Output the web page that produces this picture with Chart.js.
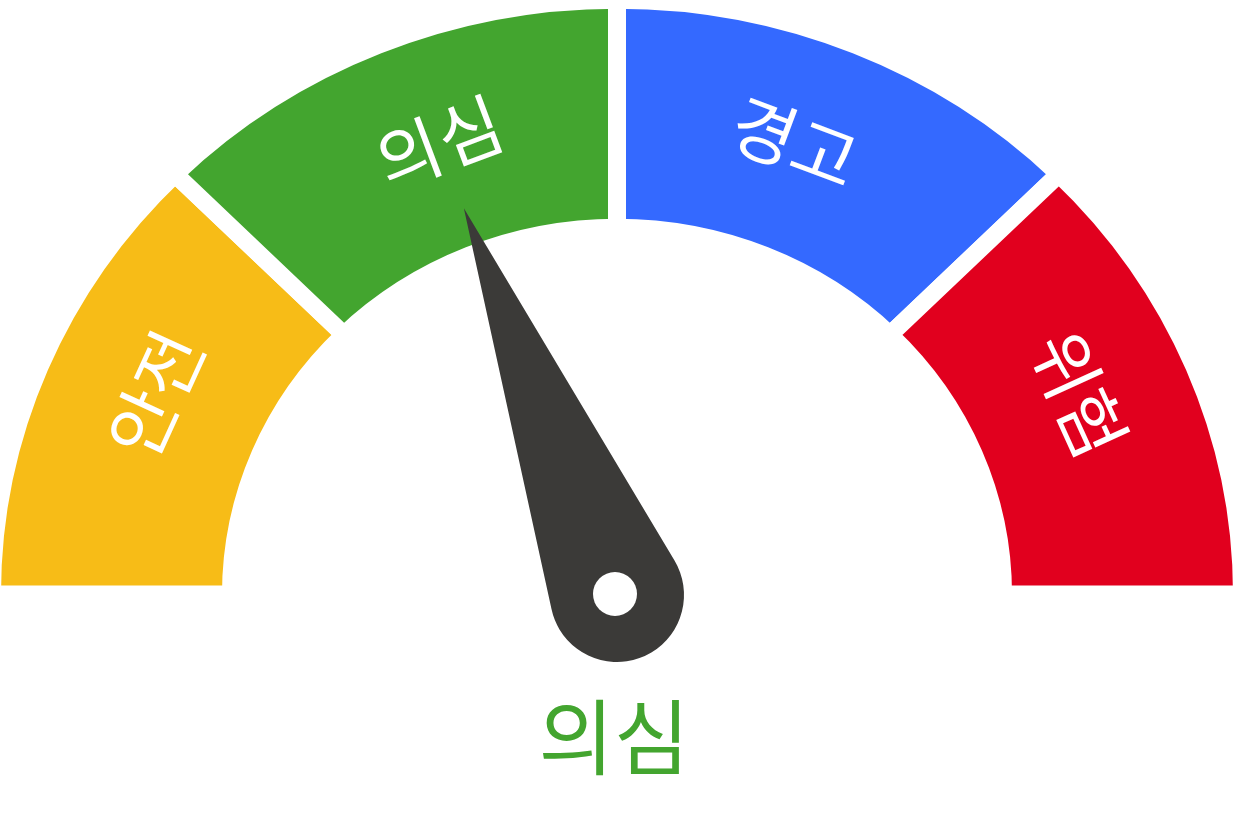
<!DOCTYPE html>
<html><head><meta charset="utf-8">
<script src="https://cdn.jsdelivr.net/npm/chart.js@4/dist/chart.umd.min.js"></script>
<style>html,body{margin:0;padding:0;background:#fff;} #wrap{width:1234px;height:837px;}</style>
</head><body><div id="wrap"><canvas id="c" width="1234" height="837"></canvas></div>
<script>
const categories = ['안전', '의심', '경고', '위험'];
const segmentValues = [25, 25, 25, 25];
const segmentColors = ['#F7BC17', '#43A52F', '#3469FF', '#E1001E'];
const needleValue = 38;
const gaugeMin = 0;
const gaugeMax = 100;

const NEEDLE_COLOR = '#3B3A38';
const Y_SCALE = 0.95;
const LABEL_NUDGE = 0.035;
const FONT = '"Noto Sans CJK KR", "Noto Sans", sans-serif';

const gaugePlugin = {
  id: 'gauge',
  beforeDatasetsDraw(chart) {
    const a = chart.getDatasetMeta(0).data[0];
    const ctx = chart.ctx;
    ctx.save();
    ctx.translate(a.x, a.y);
    ctx.scale(1, Y_SCALE);
    ctx.translate(-a.x, -a.y);
  },
  afterDatasetsDraw(chart) {
    const ctx = chart.ctx;
    ctx.restore();
    const arcs = chart.getDatasetMeta(0).data;
    // segment labels
    ctx.save();
    ctx.fillStyle = '#ffffff';
    ctx.font = '70px ' + FONT;
    ctx.textAlign = 'center';
    ctx.textBaseline = 'middle';
    arcs.forEach((a, i) => {
      let mid = (a.startAngle + a.endAngle) / 2;
      mid += LABEL_NUDGE * Math.sign(-Math.PI / 2 - mid);
      const r = (a.innerRadius + a.outerRadius) / 2 + 2;
      const x = a.x + Math.cos(mid) * r;
      const y = a.y + Math.sin(mid) * r * Y_SCALE;
      ctx.save();
      ctx.translate(x, y);
      ctx.rotate(mid + Math.PI / 2);
      ctx.fillText(chart.data.labels[i], 0, 0);
      ctx.restore();
    });
    ctx.restore();

    // needle
    const first = arcs[0], last = arcs[arcs.length - 1];
    const start = first.startAngle, end = last.endAngle;
    const ang = start + (needleValue - gaugeMin) / (gaugeMax - gaugeMin) * (end - start);
    const cx = first.x, cy = first.y + 1;
    const L = 416, rb = 67, rh = 22;
    const phi = Math.acos(rb / L);
    ctx.save();
    ctx.fillStyle = NEEDLE_COLOR;
    ctx.beginPath();
    ctx.moveTo(cx + Math.cos(ang) * L, cy + Math.sin(ang) * L);
    ctx.lineTo(cx + Math.cos(ang + phi) * rb, cy + Math.sin(ang + phi) * rb);
    ctx.arc(cx, cy, rb, ang + phi, ang - phi, false);
    ctx.closePath();
    ctx.fill();
    ctx.fillStyle = '#ffffff';
    ctx.beginPath();
    ctx.arc(cx - 2, cy - 1, rh, 0, Math.PI * 2);
    ctx.fill();
    ctx.restore();

    // current category label
    let acc = gaugeMin, idx = 0;
    for (let i = 0; i < segmentValues.length; i++) {
      acc += segmentValues[i];
      if (needleValue <= acc) { idx = i; break; }
    }
    ctx.save();
    ctx.fillStyle = segmentColors[idx];
    ctx.font = '82px ' + FONT;
    ctx.textAlign = 'center';
    ctx.textBaseline = 'middle';
    ctx.fillText(categories[idx], cx - 3, 737);
    ctx.restore();
  }
};

new Chart(document.getElementById('c'), {
  type: 'doughnut',
  data: {
    labels: categories,
    datasets: [{
      data: segmentValues,
      backgroundColor: segmentColors,
      borderColor: '#ffffff',
      borderWidth: 18,
      hoverOffset: 0,
      radius: 625,
      cutout: '61.76%',
      clip: false
    }]
  },
  options: {
    responsive: false,
    animation: false,
    events: [],
    rotation: -90,
    circumference: 180,
    layout: { padding: { top: 0, bottom: 274, left: 0, right: 0 } },
    plugins: { legend: { display: false }, tooltip: { enabled: false } }
  },
  plugins: [gaugePlugin]
});
</script>
</body></html>
